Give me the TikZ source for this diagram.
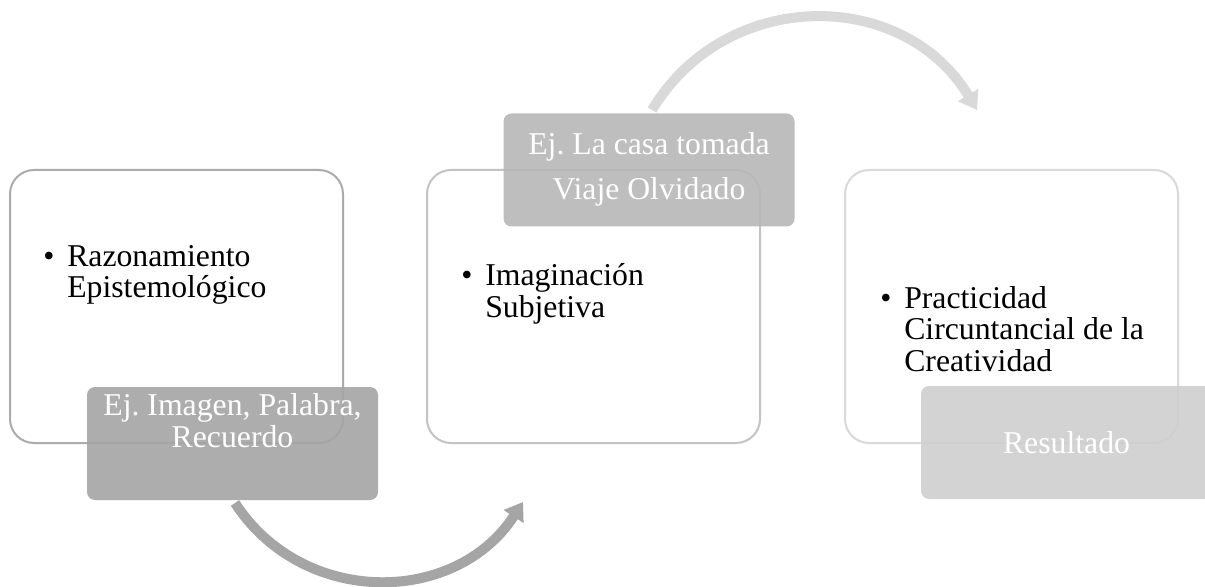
\documentclass[tikz,border=0pt]{standalone}
\usepackage{fontspec}
\setmainfont{Liberation Serif}
\usepackage{xcolor}
\usetikzlibrary{arrows.meta}
\frenchspacing

\definecolor{lineA}{HTML}{ABABAB}
\definecolor{lineB}{HTML}{C3C3C3}
\definecolor{lineC}{HTML}{D9D9D9}
\definecolor{fillA}{HTML}{A5A5A5}
\definecolor{fillB}{HTML}{B7B7B7}
\definecolor{fillC}{HTML}{CFCFCF}

\tikzset{
  bigbox/.style={draw, line width=1.5pt, fill=white, rounded corners=18pt,
    minimum width=249.75pt, minimum height=204.75pt},
  subbox/.style={rounded corners=6pt, fill opacity=0.9,
    minimum width=218.25pt, minimum height=84.75pt},
  bultxt/.style={anchor=base west, inner sep=0pt, align=left, text=black,
    font=\fontsize{23.8}{23.6}\selectfont},
  subtxt/.style={anchor=base, inner sep=0pt, align=center, text=white,
    font=\fontsize{23.8}{24}\selectfont},
  curvearrow/.style={line width=7.5pt, -{Triangle[width=17pt,length=13pt]}}
}

\begin{document}
\begin{tikzpicture}[x=0.75pt,y=0.75pt]
\clip (0,0) rectangle (1205,586);
\fill[white] (0,0) rectangle (1205,586);

\coordinate (a1s) at (235,83);
\coordinate (a1e) at (523,84);
\coordinate (a2s) at (652,476);
\coordinate (a2e) at (977,476);

\draw[curvearrow, fillA] (a1s) to[out=-57, in=-123, looseness=1.1] (a1e);
\draw[curvearrow, lineC] (a2s) to[out=59, in=121, looseness=1.13] (a2e);

\node[bigbox, draw=lineA] (razon) at (176.5,279.5) {};
\node[subbox, fill=fillA] (ejimagen) at (232.5,142.5) {};
\node[bultxt] (razontxt) at (43,288) {\makebox[18pt][l]{•}Razonamiento\\\hspace*{18pt}Epistemológico};
\node[subtxt] (ejimagentxt) at (232.5,139) {Ej. Imagen, Palabra,\\Recuerdo};

\node[bigbox, draw=lineB] (imag) at (593.5,279.5) {};
\node[subbox, fill=fillB] (ejcasa) at (649,416) {};
\node[bultxt] (imagtxt) at (461,269) {\makebox[18pt][l]{•}Imaginación\\\hspace*{18pt}Subjetiva};
\node[subtxt] (ejcasatxt) at (649,386) {Ej. La casa tomada\\[10pt]Viaje Olvidado};

\node[bigbox, draw=lineC] (pract) at (1011.5,279.5) {};
\node[subbox, fill=fillC] (result) at (1066.5,143.5) {};
\node[bultxt] (practtxt) at (880,215) {\makebox[18pt][l]{•}Practicidad\\\hspace*{18pt}Circuntancial de la\\\hspace*{18pt}Creatividad};
\node[subtxt] (resulttxt) at (1066.5,133) {Resultado};
\end{tikzpicture}
\end{document}
